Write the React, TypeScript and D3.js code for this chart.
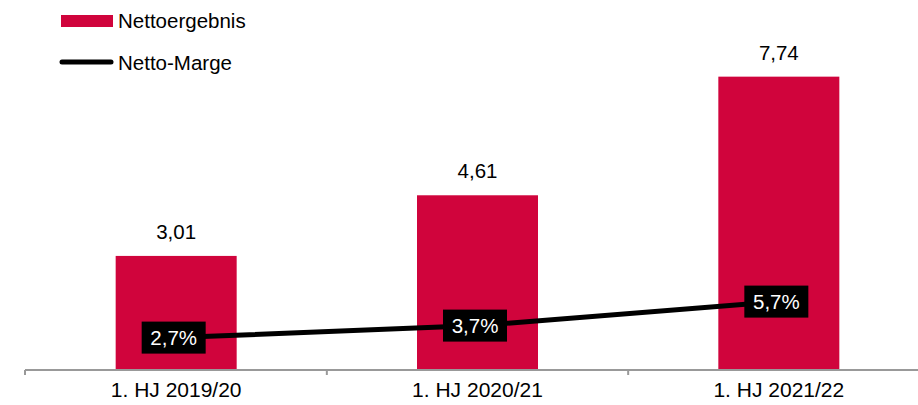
import React from "react";
import * as d3 from "d3";

const categories = ["1. HJ 2019/20", "1. HJ 2020/21", "1. HJ 2021/22"];
const nettoergebnis = [3.01, 4.61, 7.74];
const nettoMarge = [2.7, 3.7, 5.7];
const barLabels = ["3,01", "4,61", "7,74"];
const margeLabels = ["2,7%", "3,7%", "5,7%"];
const legendLabels = ["Nettoergebnis", "Netto-Marge"];

const W = 918;
const H = 405;
const RED = "#D0043C";
const FONT = "Liberation Sans, Arial, sans-serif";

export default function App() {
  const x = d3.scaleBand<string>().domain(categories).range([25.5, 929.5]).paddingInner(0).paddingOuter(0);
  const bw = 121;
  const y = d3.scaleLinear().domain([0, 8]).range([370, 66.8]);
  const y2 = d3.scaleLinear().domain([0, 25.6]).range([370, 62.8]);
  const cx = (c: string) => (x(c) as number) + x.bandwidth() / 2;
  const line = d3
    .line<number>()
    .x((_, i) => cx(categories[i]))
    .y((d) => y2(d));
  const tickXs = [25, ...categories.slice(1).map((c) => x(c) as number)];

  return (
    <svg width={W} height={H} style={{ position: "absolute", left: 0, top: 0, background: "#fff" }} fontFamily={FONT}>
      {categories.map((c, i) => (
        <rect key={c} x={cx(c) - bw / 2} y={y(nettoergebnis[i])} width={bw} height={y(0) - y(nettoergebnis[i])} fill={RED} />
      ))}
      {categories.map((c, i) => (
        <text key={c} x={cx(c)} y={y(nettoergebnis[i]) - 17} textAnchor="middle" fontSize={20.5} fill="#000">
          {barLabels[i]}
        </text>
      ))}
      <line x1={25} x2={918} y1={370} y2={370} stroke="#999" strokeWidth={2} />
      {tickXs.map((t, i) => (
        <line key={i} x1={t} x2={t} y1={370} y2={375} stroke="#999" strokeWidth={2} />
      ))}
      {categories.map((c) => (
        <text key={c} x={cx(c)} y={397} textAnchor="middle" fontSize={21} fill="#000">
          {c}
        </text>
      ))}
      <path d={line(nettoMarge) || ""} fill="none" stroke="#000" strokeWidth={5} />
      {categories.map((c, i) => (
        <g key={c} transform={`translate(${cx(c) - 2.5},${y2(nettoMarge[i])})`}>
          <rect x={-32} y={-16} width={64} height={32} fill="#000" />
          <text x={0} y={7.5} textAnchor="middle" fontSize={20.5} fill="#fff">
            {margeLabels[i]}
          </text>
        </g>
      ))}
      <rect x={61} y={15} width={52} height={12} fill={RED} />
      <text x={118} y={28} fontSize={20.5} fill="#000">
        {legendLabels[0]}
      </text>
      <line x1={62} x2={111} y1={62} y2={62} stroke="#000" strokeWidth={5} strokeLinecap="round" />
      <text x={118} y={70} fontSize={20.5} fill="#000">
        {legendLabels[1]}
      </text>
    </svg>
  );
}
